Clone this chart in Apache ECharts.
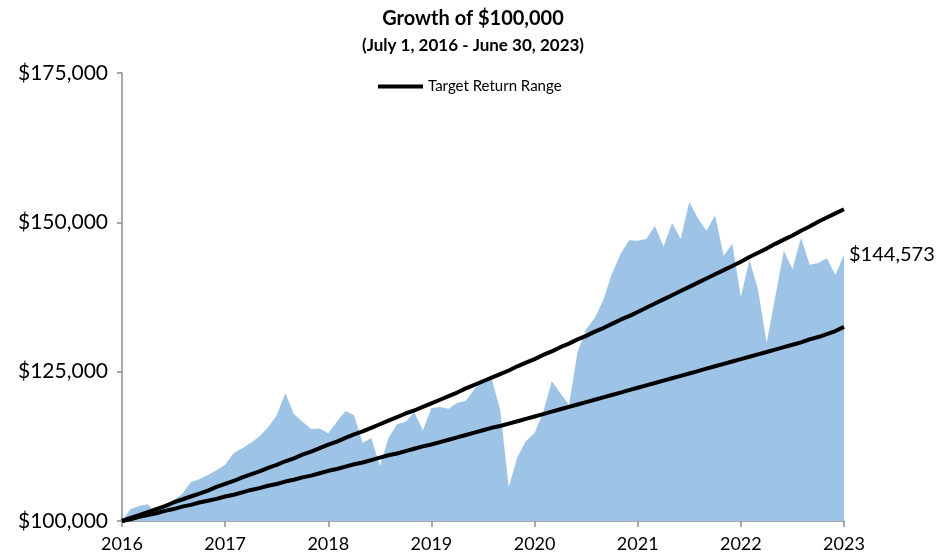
<!DOCTYPE html>
<html>
<head>
<meta charset="utf-8">
<script src="https://cdn.jsdelivr.net/npm/echarts@6/dist/echarts.min.js"></script>
<style>
html, body { margin: 0; padding: 0; background: #fff; }
#main { width: 946px; height: 560px; }
</style>
</head>
<body>
<div id="main"></div>
<script>
// 增长曲线（每月月末，2016-06 起）
var growthValues = [
    100000, 102000, 102500, 102800, 101300, 102700, 103500, 104500, 106500, 107000, 107700, 108500,
    109400, 111400, 112200, 113100, 114200, 115700, 117700, 121400, 117900, 116600, 115400, 115500,
    114700, 116600, 118400, 117700, 113100, 113900, 109200, 113900, 116200, 116600, 118200, 115200,
    118900, 119100, 118800, 119800, 120100, 122100, 123600, 123900, 118600, 105700, 110700, 113400,
    114700, 118200, 123400, 121400, 119400, 128300, 132100, 134000, 137000, 141400, 144700, 147000,
    146900, 147200, 149400, 145900, 149900, 147200, 153400, 150700, 148600, 151200, 144400, 146400,
    137500, 143700, 138700, 129800, 137500, 145200, 142200, 147400, 142900, 143200, 144000, 141200,
    144573
];
// 目标收益区间 上限
var targetHigh = [
    100000, 100500, 101000, 101500, 102000, 102500, 103100, 103600, 104100, 104600, 105100, 105700,
    106200, 106700, 107300, 107800, 108300, 108900, 109400, 110000, 110500, 111100, 111600, 112200,
    112800, 113300, 113900, 114500, 115000, 115600, 116200, 116800, 117400, 118000, 118500, 119100,
    119700, 120300, 120900, 121500, 122200, 122800, 123400, 124000, 124600, 125200, 125900, 126500,
    127100, 127800, 128400, 129100, 129700, 130400, 131000, 131700, 132300, 133000, 133700, 134300,
    135000, 135700, 136400, 137100, 137800, 138500, 139200, 139900, 140600, 141300, 142000, 142700,
    143400, 144200, 144900, 145600, 146400, 147100, 147800, 148600, 149300, 150100, 150800, 151500,
    152200
];
// 目标收益区间 下限
var targetLow = [
    100000, 100300, 100700, 101000, 101300, 101700, 102000, 102400, 102700, 103100, 103400, 103700,
    104100, 104400, 104800, 105200, 105500, 105900, 106200, 106600, 106900, 107300, 107600, 108000,
    108400, 108700, 109100, 109500, 109800, 110200, 110600, 111000, 111300, 111700, 112100, 112500,
    112800, 113200, 113600, 114000, 114400, 114800, 115200, 115600, 115900, 116300, 116700, 117100,
    117500, 117900, 118300, 118700, 119100, 119500, 119900, 120300, 120700, 121100, 121500, 121900,
    122300, 122700, 123100, 123500, 123900, 124300, 124700, 125100, 125500, 125900, 126300, 126700,
    127100, 127500, 127900, 128300, 128700, 129100, 129500, 129900, 130400, 130800, 131300, 131800,
    132500
];
var yTicks = [100000, 125000, 150000, 175000];

// 月份类目
var months = [];
for (var i = 0; i < growthValues.length; i++) {
    var m = 5 + i; // 2016-06 开始
    var y = 2016 + Math.floor(m / 12);
    var mm = (m % 12) + 1;
    months.push(y + '-' + (mm < 10 ? '0' + mm : mm));
}

function money(v) {
    return '$' + v.toString().replace(/\B(?=(\d{3})+(?!\d))/g, ',');
}

var font = 'Lato';
var myChart = echarts.init(document.getElementById('main'));
var option = {
    animation: false,
    textStyle: { fontFamily: font },
    title: {
        left: 'center',
        top: 4,
        text: 'Growth of $100,000',
        subtext: '(July 1, 2016 - June 30, 2023)',
        itemGap: 8,
        textStyle: { color: '#000', fontSize: 20, fontWeight: 'bold', fontFamily: font },
        subtextStyle: { color: '#000', fontSize: 17, fontWeight: 'bold', fontFamily: font }
    },
    legend: {
        top: 74,
        left: 373,
        icon: 'rect',
        itemWidth: 45,
        itemHeight: 4,
        itemGap: 10,
        textStyle: { color: '#000', fontSize: 15, fontFamily: font },
        data: ['Target Return Range']
    },
    grid: {
        left: 122,
        right: 102,
        top: 73,
        bottom: 39,
        containLabel: false
    },
    xAxis: {
        type: 'category',
        boundaryGap: false,
        data: months,
        axisLine: { lineStyle: { color: '#8c8c8c', width: 1.5 } },
        axisTick: { show: true, interval: 11, length: 6, lineStyle: { color: '#8c8c8c', width: 1.5 } },
        axisLabel: {
            interval: 11,
            margin: 14,
            color: '#000',
            fontSize: 18,
            fontFamily: font,
            formatter: function (v) { return v.slice(0, 4); }
        },
        splitLine: { show: false }
    },
    yAxis: {
        type: 'value',
        min: yTicks[0],
        max: yTicks[yTicks.length - 1],
        interval: 25000,
        axisLine: { show: true, lineStyle: { color: '#8c8c8c', width: 1.5 } },
        axisTick: { show: true, length: 5, lineStyle: { color: '#8c8c8c', width: 1.5 } },
        axisLabel: {
            margin: 14,
            color: '#000',
            fontSize: 21,
            fontFamily: font,
            formatter: money
        },
        splitLine: { show: false }
    },
    series: [
        {
            type: 'line',
            name: 'Growth',
            data: growthValues,
            symbol: 'none',
            lineStyle: { width: 0 },
            areaStyle: { color: '#9dc3e6', opacity: 1 },
            itemStyle: { color: '#9dc3e6' },
            endLabel: {
                show: true,
                distance: 5,
                color: '#000',
                fontSize: 20,
                fontFamily: font,
                formatter: function (p) { return money(p.value); }
            },
            z: 1
        },
        {
            type: 'line',
            name: 'Target Return Range',
            data: targetHigh,
            symbol: 'none',
            lineStyle: { color: '#000', width: 4 },
            itemStyle: { color: '#000' },
            z: 3
        },
        {
            type: 'line',
            name: 'Target Return Range',
            data: targetLow,
            symbol: 'none',
            lineStyle: { color: '#000', width: 4 },
            itemStyle: { color: '#000' },
            z: 3
        }
    ]
};
myChart.setOption(option);
</script>
</body>
</html>
